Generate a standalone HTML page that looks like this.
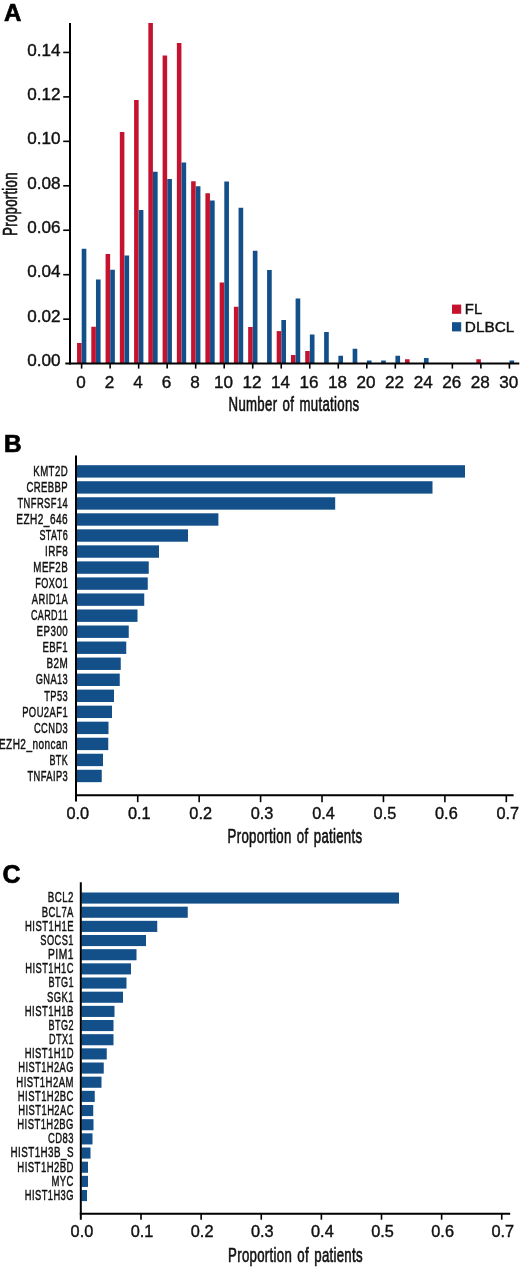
<!DOCTYPE html>
<html lang="en">
<head>
<meta charset="utf-8">
<title>Mutation burden and most frequently mutated genes</title>
<style>
  html, body { margin: 0; padding: 0; background: #ffffff; }
  body { width: 520px; height: 1267px; overflow: hidden; }
  svg { display: block; }
  text { font-family: "Liberation Sans", Arial, Helvetica, sans-serif; fill: #111111; }
  .cond { stroke: #111111; stroke-width: 0.55px; vector-effect: non-scaling-stroke; word-spacing: 2.0px; letter-spacing: 0.45px; }
  .genes text { stroke: #111111; stroke-width: 0.4px; vector-effect: non-scaling-stroke; letter-spacing: 0.7px; }
  .ticklabels text, .leg { stroke: #111111; stroke-width: 0.4px; vector-effect: non-scaling-stroke; }
  .pl { stroke: #000; stroke-width: 0.7px; fill: #000; stroke-linejoin: round; }
</style>
</head>
<body>
<svg width="520" height="1267" viewBox="0 0 520 1267" shape-rendering="geometricPrecision">
<rect x="0" y="0" width="520" height="1267" fill="#ffffff"/>
<g id="panelA">
<g class="bars">
<rect x="77.05" y="343.00" width="4.55" height="20.60" fill="#c4122f"/>
<rect x="81.70" y="248.75" width="4.65" height="114.85" fill="#13508a"/>
<rect x="91.31" y="326.75" width="4.55" height="36.85" fill="#c4122f"/>
<rect x="95.96" y="279.50" width="4.65" height="84.10" fill="#13508a"/>
<rect x="105.57" y="254.00" width="4.55" height="109.60" fill="#c4122f"/>
<rect x="110.22" y="269.75" width="4.65" height="93.85" fill="#13508a"/>
<rect x="119.83" y="132.00" width="4.55" height="231.60" fill="#c4122f"/>
<rect x="124.48" y="255.50" width="4.65" height="108.10" fill="#13508a"/>
<rect x="134.09" y="100.00" width="4.55" height="263.60" fill="#c4122f"/>
<rect x="138.74" y="210.00" width="4.65" height="153.60" fill="#13508a"/>
<rect x="148.35" y="23.00" width="4.55" height="340.60" fill="#c4122f"/>
<rect x="153.00" y="171.75" width="4.65" height="191.85" fill="#13508a"/>
<rect x="162.61" y="55.50" width="4.55" height="308.10" fill="#c4122f"/>
<rect x="167.26" y="179.00" width="4.65" height="184.60" fill="#13508a"/>
<rect x="176.87" y="43.00" width="4.55" height="320.60" fill="#c4122f"/>
<rect x="181.52" y="162.50" width="4.65" height="201.10" fill="#13508a"/>
<rect x="191.13" y="181.25" width="4.55" height="182.35" fill="#c4122f"/>
<rect x="195.78" y="186.25" width="4.65" height="177.35" fill="#13508a"/>
<rect x="205.39" y="193.25" width="4.55" height="170.35" fill="#c4122f"/>
<rect x="210.04" y="200.50" width="4.65" height="163.10" fill="#13508a"/>
<rect x="219.65" y="282.50" width="4.55" height="81.10" fill="#c4122f"/>
<rect x="224.30" y="181.50" width="4.65" height="182.10" fill="#13508a"/>
<rect x="233.91" y="306.75" width="4.55" height="56.85" fill="#c4122f"/>
<rect x="238.56" y="207.75" width="4.65" height="155.85" fill="#13508a"/>
<rect x="248.17" y="327.00" width="4.55" height="36.60" fill="#c4122f"/>
<rect x="252.82" y="250.75" width="4.65" height="112.85" fill="#13508a"/>
<rect x="267.08" y="270.00" width="4.65" height="93.60" fill="#13508a"/>
<rect x="276.69" y="331.10" width="4.55" height="32.50" fill="#c4122f"/>
<rect x="281.34" y="320.00" width="4.65" height="43.60" fill="#13508a"/>
<rect x="290.95" y="355.00" width="4.55" height="8.60" fill="#c4122f"/>
<rect x="295.60" y="298.50" width="4.65" height="65.10" fill="#13508a"/>
<rect x="305.21" y="351.00" width="4.55" height="12.60" fill="#c4122f"/>
<rect x="309.86" y="334.50" width="4.65" height="29.10" fill="#13508a"/>
<rect x="324.12" y="332.00" width="4.65" height="31.60" fill="#13508a"/>
<rect x="338.38" y="355.75" width="4.65" height="7.85" fill="#13508a"/>
<rect x="352.64" y="348.75" width="4.65" height="14.85" fill="#13508a"/>
<rect x="366.90" y="360.50" width="4.65" height="3.10" fill="#13508a"/>
<rect x="381.16" y="360.50" width="4.65" height="3.10" fill="#13508a"/>
<rect x="395.42" y="355.75" width="4.65" height="7.85" fill="#13508a"/>
<rect x="405.03" y="359.25" width="4.55" height="4.35" fill="#c4122f"/>
<rect x="423.94" y="358.00" width="4.65" height="5.60" fill="#13508a"/>
<rect x="476.33" y="359.25" width="4.55" height="4.35" fill="#c4122f"/>
<rect x="509.50" y="360.50" width="4.65" height="3.10" fill="#13508a"/>
</g>
<g class="axes">
<line x1="70.00" y1="23.00" x2="70.00" y2="364.60" stroke="#000" stroke-width="2.0"/>
<line x1="65.30" y1="363.60" x2="519.30" y2="363.60" stroke="#000" stroke-width="2.0"/>
<line x1="63.20" y1="319.15" x2="70.00" y2="319.15" stroke="#000" stroke-width="1.6"/>
<line x1="63.20" y1="274.70" x2="70.00" y2="274.70" stroke="#000" stroke-width="1.6"/>
<line x1="63.20" y1="230.25" x2="70.00" y2="230.25" stroke="#000" stroke-width="1.6"/>
<line x1="63.20" y1="185.80" x2="70.00" y2="185.80" stroke="#000" stroke-width="1.6"/>
<line x1="63.20" y1="141.35" x2="70.00" y2="141.35" stroke="#000" stroke-width="1.6"/>
<line x1="63.20" y1="96.90" x2="70.00" y2="96.90" stroke="#000" stroke-width="1.6"/>
<line x1="63.20" y1="52.45" x2="70.00" y2="52.45" stroke="#000" stroke-width="1.6"/>
<line x1="81.60" y1="363.60" x2="81.60" y2="368.60" stroke="#000" stroke-width="1.6"/>
<line x1="110.12" y1="363.60" x2="110.12" y2="368.60" stroke="#000" stroke-width="1.6"/>
<line x1="138.64" y1="363.60" x2="138.64" y2="368.60" stroke="#000" stroke-width="1.6"/>
<line x1="167.16" y1="363.60" x2="167.16" y2="368.60" stroke="#000" stroke-width="1.6"/>
<line x1="195.68" y1="363.60" x2="195.68" y2="368.60" stroke="#000" stroke-width="1.6"/>
<line x1="224.20" y1="363.60" x2="224.20" y2="368.60" stroke="#000" stroke-width="1.6"/>
<line x1="252.72" y1="363.60" x2="252.72" y2="368.60" stroke="#000" stroke-width="1.6"/>
<line x1="281.24" y1="363.60" x2="281.24" y2="368.60" stroke="#000" stroke-width="1.6"/>
<line x1="309.76" y1="363.60" x2="309.76" y2="368.60" stroke="#000" stroke-width="1.6"/>
<line x1="338.28" y1="363.60" x2="338.28" y2="368.60" stroke="#000" stroke-width="1.6"/>
<line x1="366.80" y1="363.60" x2="366.80" y2="368.60" stroke="#000" stroke-width="1.6"/>
<line x1="395.32" y1="363.60" x2="395.32" y2="368.60" stroke="#000" stroke-width="1.6"/>
<line x1="423.84" y1="363.60" x2="423.84" y2="368.60" stroke="#000" stroke-width="1.6"/>
<line x1="452.36" y1="363.60" x2="452.36" y2="368.60" stroke="#000" stroke-width="1.6"/>
<line x1="480.88" y1="363.60" x2="480.88" y2="368.60" stroke="#000" stroke-width="1.6"/>
<line x1="509.40" y1="363.60" x2="509.40" y2="368.60" stroke="#000" stroke-width="1.6"/>
</g>
<g class="ticklabels">
<text transform="translate(60.60 366.00) scale(1.0900 1)" font-size="15.7" text-anchor="end">0.00</text>
<text transform="translate(60.60 322.00) scale(1.0900 1)" font-size="15.7" text-anchor="end">0.02</text>
<text transform="translate(60.60 277.00) scale(1.0900 1)" font-size="15.7" text-anchor="end">0.04</text>
<text transform="translate(60.60 233.00) scale(1.0900 1)" font-size="15.7" text-anchor="end">0.06</text>
<text transform="translate(60.60 189.00) scale(1.0900 1)" font-size="15.7" text-anchor="end">0.08</text>
<text transform="translate(60.60 144.00) scale(1.0900 1)" font-size="15.7" text-anchor="end">0.10</text>
<text transform="translate(60.60 100.00) scale(1.0900 1)" font-size="15.7" text-anchor="end">0.12</text>
<text transform="translate(60.60 56.00) scale(1.0900 1)" font-size="15.7" text-anchor="end">0.14</text>
<text transform="translate(80.90 388.00) scale(1.0900 1)" font-size="15.7" text-anchor="middle">0</text>
<text transform="translate(109.42 388.00) scale(1.0900 1)" font-size="15.7" text-anchor="middle">2</text>
<text transform="translate(137.94 388.00) scale(1.0900 1)" font-size="15.7" text-anchor="middle">4</text>
<text transform="translate(166.46 388.00) scale(1.0900 1)" font-size="15.7" text-anchor="middle">6</text>
<text transform="translate(194.98 388.00) scale(1.0900 1)" font-size="15.7" text-anchor="middle">8</text>
<text transform="translate(223.50 388.00) scale(1.0900 1)" font-size="15.7" text-anchor="middle">10</text>
<text transform="translate(252.02 388.00) scale(1.0900 1)" font-size="15.7" text-anchor="middle">12</text>
<text transform="translate(280.54 388.00) scale(1.0900 1)" font-size="15.7" text-anchor="middle">14</text>
<text transform="translate(309.06 388.00) scale(1.0900 1)" font-size="15.7" text-anchor="middle">16</text>
<text transform="translate(337.58 388.00) scale(1.0900 1)" font-size="15.7" text-anchor="middle">18</text>
<text transform="translate(366.10 388.00) scale(1.0900 1)" font-size="15.7" text-anchor="middle">20</text>
<text transform="translate(394.62 388.00) scale(1.0900 1)" font-size="15.7" text-anchor="middle">22</text>
<text transform="translate(423.14 388.00) scale(1.0900 1)" font-size="15.7" text-anchor="middle">24</text>
<text transform="translate(451.66 388.00) scale(1.0900 1)" font-size="15.7" text-anchor="middle">26</text>
<text transform="translate(480.18 388.00) scale(1.0900 1)" font-size="15.7" text-anchor="middle">28</text>
<text transform="translate(508.70 388.00) scale(1.0900 1)" font-size="15.7" text-anchor="middle">30</text>
</g>
<text transform="translate(17.00 204.00) rotate(-90) scale(0.6500 1)" font-size="20.2" text-anchor="middle" class="cond">Proportion</text>
<text transform="translate(294.00 411.00) scale(0.6550 1)" font-size="20.2" text-anchor="middle" class="cond">Number of mutations</text>
<rect x="452.00" y="304.60" width="9.20" height="9.20" fill="#c4122f"/>
<rect x="452.00" y="322.20" width="9.20" height="9.20" fill="#13508a"/>
<text transform="translate(464.80 314.00) scale(0.9700 1)" font-size="15.4" text-anchor="start" class="leg">FL</text>
<text transform="translate(464.80 331.50)" font-size="15.4" text-anchor="start" class="leg">DLBCL</text>
<text transform="translate(3.90 21.00) scale(1.0200 1)" font-size="23.6" text-anchor="start" font-weight="bold" class="pl">A</text>
</g>
<g id="panelB">
<g class="bars">
<rect x="76.60" y="465.20" width="388.40" height="12.40" fill="#13508a"/>
<rect x="76.60" y="481.23" width="355.90" height="12.40" fill="#13508a"/>
<rect x="76.60" y="497.26" width="258.60" height="12.40" fill="#13508a"/>
<rect x="76.60" y="513.29" width="141.80" height="12.40" fill="#13508a"/>
<rect x="76.60" y="529.32" width="111.40" height="12.40" fill="#13508a"/>
<rect x="76.60" y="545.35" width="82.40" height="12.40" fill="#13508a"/>
<rect x="76.60" y="561.38" width="72.15" height="12.40" fill="#13508a"/>
<rect x="76.60" y="577.41" width="71.15" height="12.40" fill="#13508a"/>
<rect x="76.60" y="593.44" width="67.65" height="12.40" fill="#13508a"/>
<rect x="76.60" y="609.47" width="60.90" height="12.40" fill="#13508a"/>
<rect x="76.60" y="625.50" width="52.15" height="12.40" fill="#13508a"/>
<rect x="76.60" y="641.53" width="49.65" height="12.40" fill="#13508a"/>
<rect x="76.60" y="657.56" width="44.15" height="12.40" fill="#13508a"/>
<rect x="76.60" y="673.59" width="43.15" height="12.40" fill="#13508a"/>
<rect x="76.60" y="689.62" width="37.40" height="12.40" fill="#13508a"/>
<rect x="76.60" y="705.65" width="35.40" height="12.40" fill="#13508a"/>
<rect x="76.60" y="721.68" width="31.90" height="12.40" fill="#13508a"/>
<rect x="76.60" y="737.71" width="31.65" height="12.40" fill="#13508a"/>
<rect x="76.60" y="753.74" width="26.40" height="12.40" fill="#13508a"/>
<rect x="76.60" y="769.77" width="25.15" height="12.40" fill="#13508a"/>
</g>
<g class="axes">
<line x1="76.00" y1="455.50" x2="76.00" y2="801.50" stroke="#000" stroke-width="2.0"/>
<line x1="75.00" y1="795.20" x2="513.60" y2="795.20" stroke="#000" stroke-width="2.0"/>
<line x1="137.73" y1="795.20" x2="137.73" y2="802.20" stroke="#000" stroke-width="1.6"/>
<line x1="199.16" y1="795.20" x2="199.16" y2="802.20" stroke="#000" stroke-width="1.6"/>
<line x1="260.59" y1="795.20" x2="260.59" y2="802.20" stroke="#000" stroke-width="1.6"/>
<line x1="322.02" y1="795.20" x2="322.02" y2="802.20" stroke="#000" stroke-width="1.6"/>
<line x1="383.45" y1="795.20" x2="383.45" y2="802.20" stroke="#000" stroke-width="1.6"/>
<line x1="444.88" y1="795.20" x2="444.88" y2="802.20" stroke="#000" stroke-width="1.6"/>
<line x1="506.31" y1="795.20" x2="506.31" y2="802.20" stroke="#000" stroke-width="1.6"/>
</g>
<g class="ticklabels">
<text transform="translate(77.80 819.00) scale(1.0400 1)" font-size="15.7" text-anchor="middle">0.0</text>
<text transform="translate(139.23 819.00) scale(1.0400 1)" font-size="15.7" text-anchor="middle">0.1</text>
<text transform="translate(200.66 819.00) scale(1.0400 1)" font-size="15.7" text-anchor="middle">0.2</text>
<text transform="translate(262.09 819.00) scale(1.0400 1)" font-size="15.7" text-anchor="middle">0.3</text>
<text transform="translate(323.52 819.00) scale(1.0400 1)" font-size="15.7" text-anchor="middle">0.4</text>
<text transform="translate(384.95 819.00) scale(1.0400 1)" font-size="15.7" text-anchor="middle">0.5</text>
<text transform="translate(446.38 819.00) scale(1.0400 1)" font-size="15.7" text-anchor="middle">0.6</text>
<text transform="translate(507.81 819.00) scale(1.0400 1)" font-size="15.7" text-anchor="middle">0.7</text>
</g>
<g class="genes">
<text transform="translate(68.15 476.10) scale(0.6345 1)" font-size="15.2" text-anchor="end">KMT2D</text>
<text transform="translate(68.15 492.13) scale(0.6262 1)" font-size="15.2" text-anchor="end">CREBBP</text>
<text transform="translate(68.15 508.16) scale(0.6152 1)" font-size="15.2" text-anchor="end">TNFRSF14</text>
<text transform="translate(68.15 524.19) scale(0.6639 1)" font-size="15.2" text-anchor="end">EZH2_646</text>
<text transform="translate(68.15 540.22) scale(0.5933 1)" font-size="15.2" text-anchor="end">STAT6</text>
<text transform="translate(68.15 556.25) scale(0.6475 1)" font-size="15.2" text-anchor="end">IRF8</text>
<text transform="translate(68.15 572.28) scale(0.6441 1)" font-size="15.2" text-anchor="end">MEF2B</text>
<text transform="translate(68.15 588.31) scale(0.5981 1)" font-size="15.2" text-anchor="end">FOXO1</text>
<text transform="translate(68.15 604.34) scale(0.6152 1)" font-size="15.2" text-anchor="end">ARID1A</text>
<text transform="translate(68.15 620.37) scale(0.5909 1)" font-size="15.2" text-anchor="end">CARD11</text>
<text transform="translate(68.15 636.40) scale(0.6422 1)" font-size="15.2" text-anchor="end">EP300</text>
<text transform="translate(68.15 652.43) scale(0.6312 1)" font-size="15.2" text-anchor="end">EBF1</text>
<text transform="translate(68.15 668.46) scale(0.6524 1)" font-size="15.2" text-anchor="end">B2M</text>
<text transform="translate(68.15 684.49) scale(0.6087 1)" font-size="15.2" text-anchor="end">GNA13</text>
<text transform="translate(68.15 700.52) scale(0.6120 1)" font-size="15.2" text-anchor="end">TP53</text>
<text transform="translate(68.15 716.55) scale(0.6209 1)" font-size="15.2" text-anchor="end">POU2AF1</text>
<text transform="translate(68.15 732.58) scale(0.6121 1)" font-size="15.2" text-anchor="end">CCND3</text>
<text transform="translate(68.15 748.61) scale(0.6604 1)" font-size="15.2" text-anchor="end">EZH2_noncan</text>
<text transform="translate(68.15 764.64) scale(0.5931 1)" font-size="15.2" text-anchor="end">BTK</text>
<text transform="translate(68.15 780.67) scale(0.6130 1)" font-size="15.2" text-anchor="end">TNFAIP3</text>
</g>
<text transform="translate(295.00 843.00) scale(0.6550 1)" font-size="20.2" text-anchor="middle" class="cond">Proportion of patients</text>
<text transform="translate(4.10 452.00) scale(1.0500 1)" font-size="23.2" text-anchor="start" font-weight="bold" class="pl">B</text>
</g>
<g id="panelC">
<g class="bars">
<rect x="81.40" y="892.50" width="317.60" height="11.10" fill="#13508a"/>
<rect x="81.40" y="906.67" width="106.35" height="11.10" fill="#13508a"/>
<rect x="81.40" y="920.83" width="75.85" height="11.10" fill="#13508a"/>
<rect x="81.40" y="935.00" width="64.60" height="11.10" fill="#13508a"/>
<rect x="81.40" y="949.17" width="55.10" height="11.10" fill="#13508a"/>
<rect x="81.40" y="963.34" width="49.60" height="11.10" fill="#13508a"/>
<rect x="81.40" y="977.50" width="45.10" height="11.10" fill="#13508a"/>
<rect x="81.40" y="991.67" width="41.60" height="11.10" fill="#13508a"/>
<rect x="81.40" y="1005.84" width="33.10" height="11.10" fill="#13508a"/>
<rect x="81.40" y="1020.00" width="32.10" height="11.10" fill="#13508a"/>
<rect x="81.40" y="1034.17" width="32.10" height="11.10" fill="#13508a"/>
<rect x="81.40" y="1048.34" width="25.35" height="11.10" fill="#13508a"/>
<rect x="81.40" y="1062.50" width="22.35" height="11.10" fill="#13508a"/>
<rect x="81.40" y="1076.67" width="20.10" height="11.10" fill="#13508a"/>
<rect x="81.40" y="1090.84" width="13.35" height="11.10" fill="#13508a"/>
<rect x="81.40" y="1105.01" width="11.85" height="11.10" fill="#13508a"/>
<rect x="81.40" y="1119.17" width="12.10" height="11.10" fill="#13508a"/>
<rect x="81.40" y="1133.34" width="11.10" height="11.10" fill="#13508a"/>
<rect x="81.40" y="1147.51" width="9.10" height="11.10" fill="#13508a"/>
<rect x="81.40" y="1161.67" width="6.60" height="11.10" fill="#13508a"/>
<rect x="81.40" y="1175.84" width="6.60" height="11.10" fill="#13508a"/>
<rect x="81.40" y="1190.01" width="5.60" height="11.10" fill="#13508a"/>
</g>
<g class="axes">
<line x1="80.80" y1="882.20" x2="80.80" y2="1219.80" stroke="#000" stroke-width="2.0"/>
<line x1="79.80" y1="1213.70" x2="510.20" y2="1213.70" stroke="#000" stroke-width="2.0"/>
<line x1="141.02" y1="1213.70" x2="141.02" y2="1219.70" stroke="#000" stroke-width="1.6"/>
<line x1="201.14" y1="1213.70" x2="201.14" y2="1219.70" stroke="#000" stroke-width="1.6"/>
<line x1="261.26" y1="1213.70" x2="261.26" y2="1219.70" stroke="#000" stroke-width="1.6"/>
<line x1="321.38" y1="1213.70" x2="321.38" y2="1219.70" stroke="#000" stroke-width="1.6"/>
<line x1="381.50" y1="1213.70" x2="381.50" y2="1219.70" stroke="#000" stroke-width="1.6"/>
<line x1="441.62" y1="1213.70" x2="441.62" y2="1219.70" stroke="#000" stroke-width="1.6"/>
<line x1="501.74" y1="1213.70" x2="501.74" y2="1219.70" stroke="#000" stroke-width="1.6"/>
</g>
<g class="ticklabels">
<text transform="translate(81.90 1237.00) scale(1.0400 1)" font-size="15.7" text-anchor="middle">0.0</text>
<text transform="translate(142.02 1237.00) scale(1.0400 1)" font-size="15.7" text-anchor="middle">0.1</text>
<text transform="translate(202.14 1237.00) scale(1.0400 1)" font-size="15.7" text-anchor="middle">0.2</text>
<text transform="translate(262.26 1237.00) scale(1.0400 1)" font-size="15.7" text-anchor="middle">0.3</text>
<text transform="translate(322.38 1237.00) scale(1.0400 1)" font-size="15.7" text-anchor="middle">0.4</text>
<text transform="translate(382.50 1237.00) scale(1.0400 1)" font-size="15.7" text-anchor="middle">0.5</text>
<text transform="translate(442.62 1237.00) scale(1.0400 1)" font-size="15.7" text-anchor="middle">0.6</text>
<text transform="translate(502.74 1237.00) scale(1.0400 1)" font-size="15.7" text-anchor="middle">0.7</text>
</g>
<g class="genes">
<text transform="translate(73.90 902.40) scale(0.6388 1)" font-size="15.2" text-anchor="end">BCL2</text>
<text transform="translate(73.90 916.57) scale(0.6255 1)" font-size="15.2" text-anchor="end">BCL7A</text>
<text transform="translate(73.90 930.73) scale(0.6245 1)" font-size="15.2" text-anchor="end">HIST1H1E</text>
<text transform="translate(73.90 944.90) scale(0.6097 1)" font-size="15.2" text-anchor="end">SOCS1</text>
<text transform="translate(73.90 959.07) scale(0.6761 1)" font-size="15.2" text-anchor="end">PIM1</text>
<text transform="translate(73.90 973.24) scale(0.6150 1)" font-size="15.2" text-anchor="end">HIST1H1C</text>
<text transform="translate(73.90 987.40) scale(0.5990 1)" font-size="15.2" text-anchor="end">BTG1</text>
<text transform="translate(73.90 1001.57) scale(0.6209 1)" font-size="15.2" text-anchor="end">SGK1</text>
<text transform="translate(73.90 1015.74) scale(0.6281 1)" font-size="15.2" text-anchor="end">HIST1H1B</text>
<text transform="translate(73.90 1029.90) scale(0.5990 1)" font-size="15.2" text-anchor="end">BTG2</text>
<text transform="translate(73.90 1044.07) scale(0.5977 1)" font-size="15.2" text-anchor="end">DTX1</text>
<text transform="translate(73.90 1058.24) scale(0.6216 1)" font-size="15.2" text-anchor="end">HIST1H1D</text>
<text transform="translate(73.90 1072.40) scale(0.6123 1)" font-size="15.2" text-anchor="end">HIST1H2AG</text>
<text transform="translate(73.90 1086.57) scale(0.6292 1)" font-size="15.2" text-anchor="end">HIST1H2AM</text>
<text transform="translate(73.90 1100.74) scale(0.6239 1)" font-size="15.2" text-anchor="end">HIST1H2BC</text>
<text transform="translate(73.90 1114.90) scale(0.6179 1)" font-size="15.2" text-anchor="end">HIST1H2AC</text>
<text transform="translate(73.90 1129.07) scale(0.6234 1)" font-size="15.2" text-anchor="end">HIST1H2BG</text>
<text transform="translate(73.90 1143.24) scale(0.6200 1)" font-size="15.2" text-anchor="end">CD83</text>
<text transform="translate(73.90 1157.41) scale(0.6460 1)" font-size="15.2" text-anchor="end">HIST1H3B_S</text>
<text transform="translate(73.90 1171.57) scale(0.6290 1)" font-size="15.2" text-anchor="end">HIST1H2BD</text>
<text transform="translate(73.90 1185.74) scale(0.6259 1)" font-size="15.2" text-anchor="end">MYC</text>
<text transform="translate(73.90 1199.91) scale(0.6153 1)" font-size="15.2" text-anchor="end">HIST1H3G</text>
</g>
<text transform="translate(295.50 1262.00) scale(0.6550 1)" font-size="20.2" text-anchor="middle" class="cond">Proportion of patients</text>
<text transform="translate(2.50 883.00)" font-size="25.0" text-anchor="start" font-weight="bold" class="pl">C</text>
</g>
</svg>
</body>
</html>
